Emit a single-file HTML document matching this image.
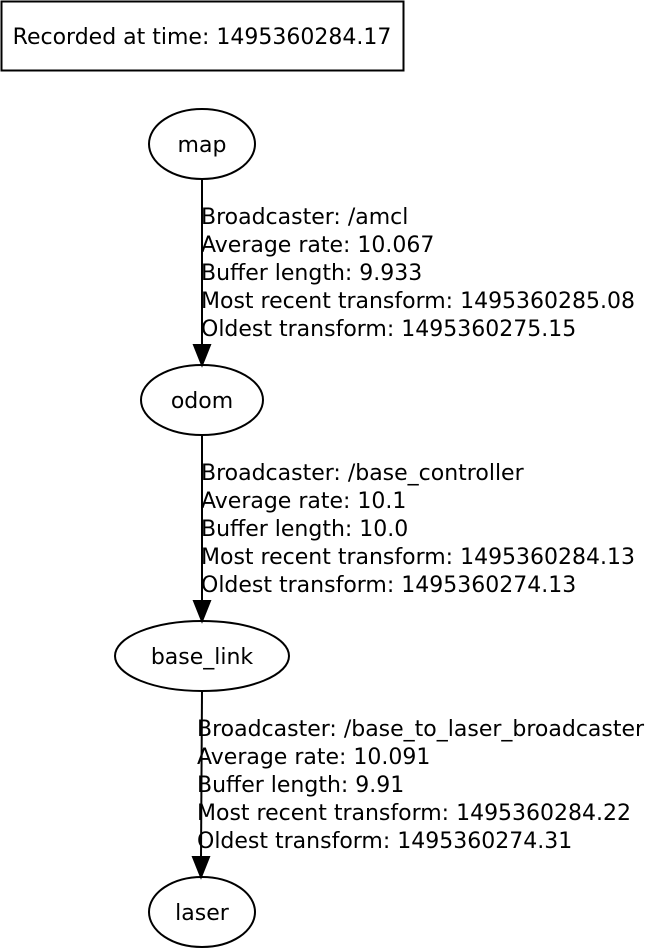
<!DOCTYPE html>
<html><head><meta charset="utf-8"><style>
html,body{margin:0;padding:0;background:#fff;}
svg{display:block;}
text{font-family:"DejaVu Sans","Liberation Sans",sans-serif;font-size:22px;fill:#000;}
</style></head><body>
<svg width="646" height="948" viewBox="0 0 646 948" xmlns="http://www.w3.org/2000/svg">
<rect x="1.5" y="1.5" width="402" height="69" fill="#fff" stroke="#000" stroke-width="2"/>
<text x="202" y="44" text-anchor="middle">Recorded at time: 1495360284.17</text>

<ellipse cx="202" cy="144" rx="53" ry="35" fill="none" stroke="#000" stroke-width="2"/>
<text x="202" y="152" text-anchor="middle">map</text>
<ellipse cx="202" cy="400" rx="61" ry="35" fill="none" stroke="#000" stroke-width="2"/>
<text x="202" y="408" text-anchor="middle">odom</text>
<ellipse cx="202" cy="656" rx="87" ry="35" fill="none" stroke="#000" stroke-width="2"/>
<text x="202" y="664" text-anchor="middle">base_link</text>
<ellipse cx="202" cy="912" rx="53" ry="35" fill="none" stroke="#000" stroke-width="2"/>
<text x="202" y="920" text-anchor="middle">laser</text>

<line x1="202" y1="179" x2="202" y2="346" stroke="#000" stroke-width="2"/>
<polygon points="194,345 210,345 202,365" fill="#000" stroke="#000" stroke-width="2"/>
<line x1="202" y1="435" x2="202" y2="602" stroke="#000" stroke-width="2"/>
<polygon points="194,601 210,601 202,621" fill="#000" stroke="#000" stroke-width="2"/>
<line x1="202" y1="691" x2="201" y2="858" stroke="#000" stroke-width="2"/>
<polygon points="193,857 209,857 201,877" fill="#000" stroke="#000" stroke-width="2"/>

<text x="201" y="224">Broadcaster: /amcl</text>
<text x="201" y="252">Average rate: 10.067</text>
<text x="201" y="280">Buffer length: 9.933</text>
<text x="201" y="308">Most recent transform: 1495360285.08</text>
<text x="201" y="336">Oldest transform: 1495360275.15</text>

<text x="201" y="480">Broadcaster: /base_controller</text>
<text x="201" y="508">Average rate: 10.1</text>
<text x="201" y="536">Buffer length: 10.0</text>
<text x="201" y="564">Most recent transform: 1495360284.13</text>
<text x="201" y="592">Oldest transform: 1495360274.13</text>

<text x="197" y="736">Broadcaster: /base_to_laser_broadcaster</text>
<text x="197" y="764">Average rate: 10.091</text>
<text x="197" y="792">Buffer length: 9.91</text>
<text x="197" y="820">Most recent transform: 1495360284.22</text>
<text x="197" y="848">Oldest transform: 1495360274.31</text>
</svg>
</body></html>
